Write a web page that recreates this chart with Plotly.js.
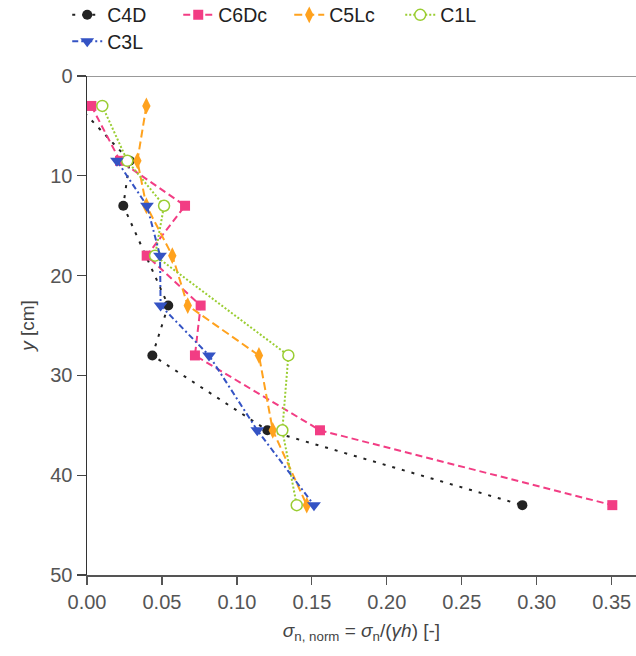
<!DOCTYPE html>
<html>
<head>
<meta charset="utf-8">
<script src="https://cdn.plot.ly/plotly-3.0.1.min.js"></script>
<style>html,body{margin:0;padding:0;background:#fff;}#chart{width:636px;height:656px;}</style>
</head>
<body>
<div id="chart"></div>
<script>
// ---- data ----
const seriesNames = ['C4D', 'C6Dc', 'C5Lc', 'C1L', 'C3L'];

const y_C4D  = [3, 8.5, 13, 23, 28, 35.5, 43];
const x_C4D  = [-0.006, 0.0285, 0.0242, 0.0542, 0.0436, 0.1203, 0.2904];

const y_C6Dc = [3, 8.5, 13, 18, 23, 28, 35.5, 43];
const x_C6Dc = [0.0029, 0.022, 0.0654, 0.0398, 0.0758, 0.072, 0.1554, 0.3504];

const y_C5Lc = [3, 8.5, 13, 18, 23, 28, 35.5, 43];
const x_C5Lc = [0.0396, 0.0336, 0.0396, 0.0569, 0.0672, 0.1147, 0.1239, 0.1466];

const y_C1L  = [3, 8.5, 13, 18, 28, 35.5, 43];
const x_C1L  = [0.0102, 0.0269, 0.0514, 0.0454, 0.1343, 0.1303, 0.1399];

const y_C3L  = [8.5, 13, 18, 23, 28, 35.5, 43];
const x_C3L  = [0.020, 0.040, 0.0487, 0.0491, 0.0814, 0.1136, 0.1514];

const xTicks = [0, 0.05, 0.10, 0.15, 0.20, 0.25, 0.30, 0.35];
const yTicks = [0, 10, 20, 30, 40, 50];

// ---- styles ----
const FONT = '"Liberation Sans", Arial, Helvetica, sans-serif';

const traces = [
  {name: seriesNames[0], x: x_C4D, y: y_C4D, legend: 'legend',
   line: {color: '#222222', width: 2, dash: '3px,7px'},
   marker: {symbol: 'circle', size: 10, color: '#222222'}},
  {name: seriesNames[1], x: x_C6Dc, y: y_C6Dc, legend: 'legend',
   line: {color: '#F23D84', width: 2, dash: '7px,4px'},
   marker: {symbol: 'square', size: 10, color: '#F23D84'}},
  {name: seriesNames[2], x: x_C5Lc, y: y_C5Lc, legend: 'legend',
   line: {color: '#FFA21E', width: 2, dash: '8px,4px'},
   marker: {symbol: 'diamond-tall', size: 12, color: '#FFA21E'}},
  {name: seriesNames[3], x: x_C1L, y: y_C1L, legend: 'legend',
   line: {color: '#9ACD32', width: 2, dash: '2px,2px'},
   marker: {symbol: 'circle', size: 11, color: '#ffffff', line: {color: '#9ACD32', width: 1.5}}},
  {name: seriesNames[4], x: x_C3L, y: y_C3L, legend: 'legend2',
   line: {color: '#3453C4', width: 2, dash: '6px,3px,2px,3px'},
   marker: {symbol: 'triangle-down', size: 12, color: '#3453C4'}}
].map(t => Object.assign({type: 'scatter', mode: 'lines+markers', cliponaxis: true}, t));

const layout = {
  width: 636, height: 656,
  margin: {l: 87, r: 0, t: 76, b: 81, pad: 0, autoexpand: false},
  paper_bgcolor: '#ffffff', plot_bgcolor: '#ffffff',
  font: {family: FONT, size: 18, color: '#333333'},
  showlegend: true,
  legend: {orientation: 'h', x: -0.036, xanchor: 'left', y: 1.122, yanchor: 'middle',
           font: {family: FONT, size: 19.5, color: '#222222'}, entrywidth: 66, entrywidthmode: 'pixels',
           bgcolor: 'rgba(0,0,0,0)', traceorder: 'normal'},
  legend2: {orientation: 'h', x: -0.036, xanchor: 'left', y: 1.069, yanchor: 'middle',
           font: {family: FONT, size: 19.5, color: '#222222'}, bgcolor: 'rgba(0,0,0,0)'},
  xaxis: {
    range: [0, 0.3662], tickvals: xTicks, tickformat: '.2f',
    ticks: 'outside', ticklen: 8, tickwidth: 1.2, tickcolor: '#555555',
    showline: true, linecolor: '#555555', linewidth: 1.5,
    showgrid: false, zeroline: false,
    tickfont: {family: FONT, size: 20, color: '#555555'},
    title: {text: '<i>σ</i><sub>n, norm</sub> = <i>σ</i><sub>n</sub>/(<i>γh</i>) [-]',
            font: {family: FONT, size: 19, color: '#444444'}, standoff: 12}
  },
  yaxis: {
    range: [50, 0], tickvals: yTicks,
    ticks: 'outside', ticklen: 9, tickwidth: 1.2, tickcolor: '#444444',
    showline: true, linecolor: '#333333', linewidth: 1.5,
    showgrid: false, zeroline: false,
    tickfont: {family: FONT, size: 20, color: '#555555'},
    title: {text: '<i>y</i> [cm]', font: {family: FONT, size: 19, color: '#444444'}, standoff: 10}
  },
  shapes: [
    {type: 'line', xref: 'paper', x0: 0, x1: 1, yref: 'y', y0: 0, y1: 0,
     line: {color: '#999999', width: 2}, layer: 'below'}
  ]
};

Plotly.newPlot('chart', traces, layout, {displayModeBar: false, staticPlot: true});
</script>
</body>
</html>
